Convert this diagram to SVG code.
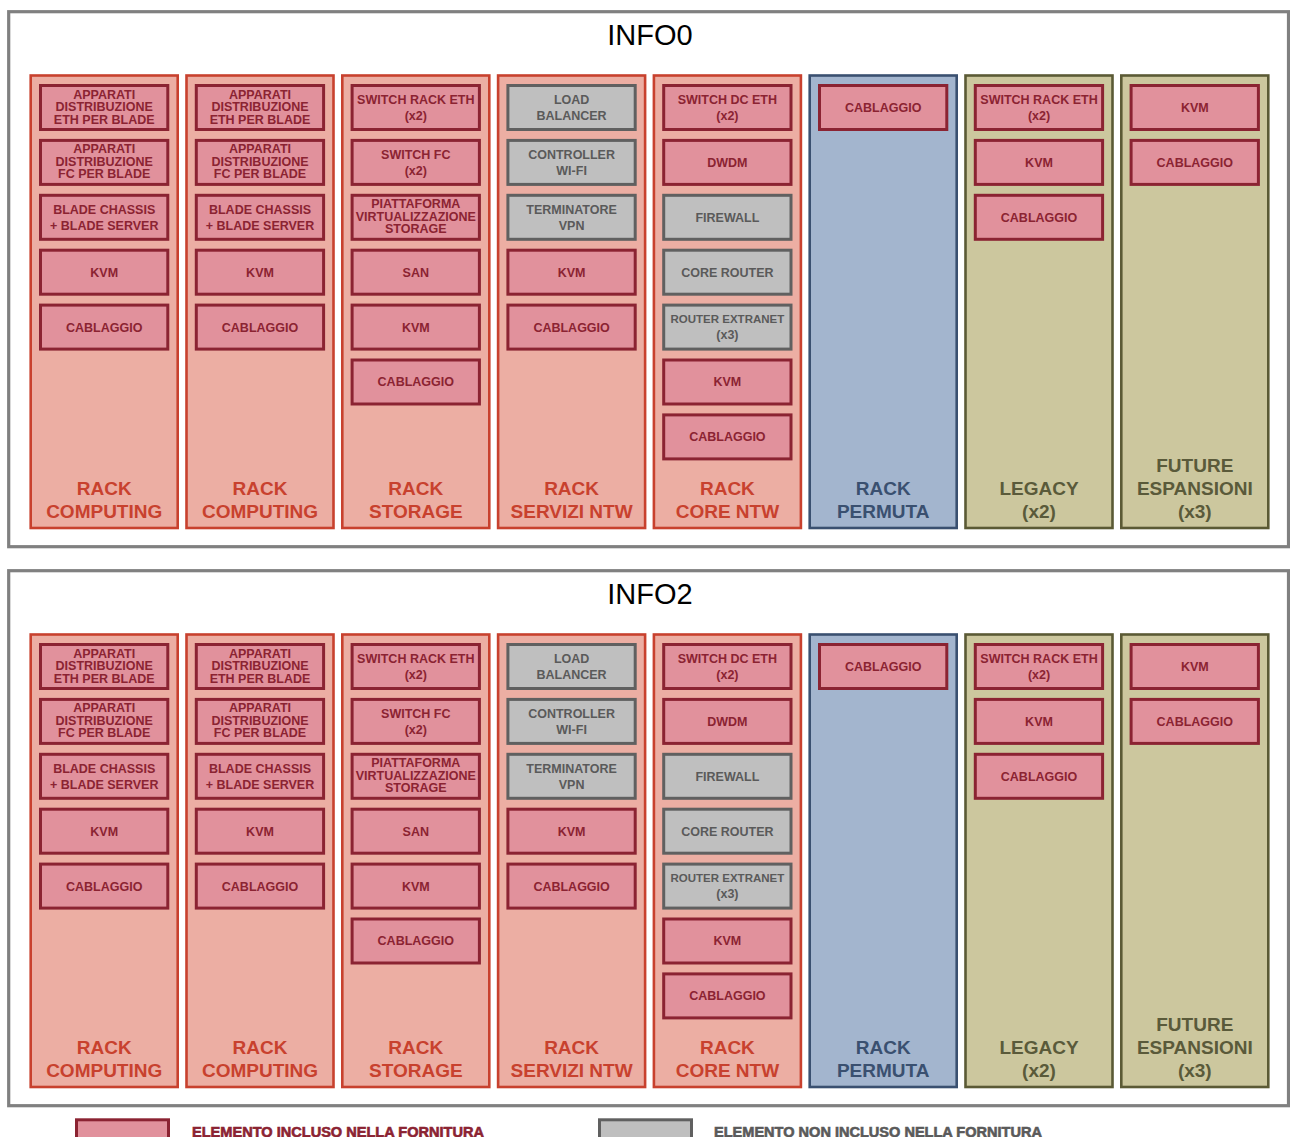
<svg xmlns="http://www.w3.org/2000/svg" width="1290" height="1137" viewBox="0 0 1290 1137">
<style>
.bg{fill:#ffffff}
.panel{fill:#ffffff;stroke:#808080;stroke-width:3.2}
.title{font-family:"Liberation Sans",Arial,sans-serif;font-size:29px;fill:#000;text-anchor:middle}
.rr{fill:#ECAEA3;stroke:#C8412E;stroke-width:2.6}
.rb{fill:#A3B5CE;stroke:#3A5070;stroke-width:2.6}
.ro{fill:#CCC79E;stroke:#5B5A35;stroke-width:2.6}
.ip{fill:#E1919C;stroke:#8B2332;stroke-width:3}
.ig{fill:#BFBFBF;stroke:#606060;stroke-width:3}
.tp,.tg{font-family:"Liberation Sans",Arial,sans-serif;font-weight:bold;font-size:12.5px;text-anchor:middle}
.tp{fill:#8B2332}
.tg{fill:#5A5A5A}
.sm{font-size:11.5px}
.lr,.lb,.lo{font-family:"Liberation Sans",Arial,sans-serif;font-weight:bold;font-size:19px;text-anchor:middle}
.lr{fill:#C8412E}
.lb{fill:#3A5070}
.lo{fill:#5A5A3A}
.leg{font-family:"Liberation Sans",Arial,sans-serif;font-weight:bold;font-size:14.5px;stroke-width:0.6}
</style>
<rect class="bg" x="0" y="0" width="1290" height="1137"/>

<!-- ================= PANEL INFO0 ================= -->
<g id="info0">
<rect class="panel" x="8.7" y="11.7" width="1279.8" height="535"/>
<text class="title" x="650" y="45">INFO0</text>

<g id="info0-rack1">
<rect class="rr" x="30.7" y="75.5" width="147" height="452.5"/>
<rect class="ip" x="40.5" y="85.5" width="127.3" height="44"/>
<text class="tp"><tspan x="104.2" y="98.5">APPARATI</tspan><tspan x="104.2" y="111">DISTRIBUZIONE</tspan><tspan x="104.2" y="123.5">ETH PER BLADE</tspan></text>
<rect class="ip" x="40.5" y="140.4" width="127.3" height="44"/>
<text class="tp"><tspan x="104.2" y="153.4">APPARATI</tspan><tspan x="104.2" y="165.9">DISTRIBUZIONE</tspan><tspan x="104.2" y="178.4">FC PER BLADE</tspan></text>
<rect class="ip" x="40.5" y="195.3" width="127.3" height="44"/>
<text class="tp"><tspan x="104.2" y="213.7">BLADE CHASSIS</tspan><tspan x="104.2" y="229.7">+ BLADE SERVER</tspan></text>
<rect class="ip" x="40.5" y="250.2" width="127.3" height="44"/>
<text class="tp" x="104.2" y="276.6">KVM</text>
<rect class="ip" x="40.5" y="305.1" width="127.3" height="44"/>
<text class="tp" x="104.2" y="331.5">CABLAGGIO</text>
<text class="lr"><tspan x="104.2" y="495">RACK</tspan><tspan x="104.2" y="518">COMPUTING</tspan></text>
</g>

<g id="info0-rack2">
<rect class="rr" x="186.5" y="75.5" width="147" height="452.5"/>
<rect class="ip" x="196.3" y="85.5" width="127.3" height="44"/>
<text class="tp"><tspan x="260" y="98.5">APPARATI</tspan><tspan x="260" y="111">DISTRIBUZIONE</tspan><tspan x="260" y="123.5">ETH PER BLADE</tspan></text>
<rect class="ip" x="196.3" y="140.4" width="127.3" height="44"/>
<text class="tp"><tspan x="260" y="153.4">APPARATI</tspan><tspan x="260" y="165.9">DISTRIBUZIONE</tspan><tspan x="260" y="178.4">FC PER BLADE</tspan></text>
<rect class="ip" x="196.3" y="195.3" width="127.3" height="44"/>
<text class="tp"><tspan x="260" y="213.7">BLADE CHASSIS</tspan><tspan x="260" y="229.7">+ BLADE SERVER</tspan></text>
<rect class="ip" x="196.3" y="250.2" width="127.3" height="44"/>
<text class="tp" x="260" y="276.6">KVM</text>
<rect class="ip" x="196.3" y="305.1" width="127.3" height="44"/>
<text class="tp" x="260" y="331.5">CABLAGGIO</text>
<text class="lr"><tspan x="260" y="495">RACK</tspan><tspan x="260" y="518">COMPUTING</tspan></text>
</g>

<g id="info0-rack3">
<rect class="rr" x="342.3" y="75.5" width="147" height="452.5"/>
<rect class="ip" x="352.1" y="85.5" width="127.3" height="44"/>
<text class="tp"><tspan x="415.8" y="103.8">SWITCH RACK ETH</tspan><tspan x="415.8" y="119.8">(x2)</tspan></text>
<rect class="ip" x="352.1" y="140.4" width="127.3" height="44"/>
<text class="tp"><tspan x="415.8" y="158.7">SWITCH FC</tspan><tspan x="415.8" y="174.7">(x2)</tspan></text>
<rect class="ip" x="352.1" y="195.3" width="127.3" height="44"/>
<text class="tp"><tspan x="415.8" y="208.3">PIATTAFORMA</tspan><tspan x="415.8" y="220.8">VIRTUALIZZAZIONE</tspan><tspan x="415.8" y="233.3">STORAGE</tspan></text>
<rect class="ip" x="352.1" y="250.2" width="127.3" height="44"/>
<text class="tp" x="415.8" y="276.6">SAN</text>
<rect class="ip" x="352.1" y="305.1" width="127.3" height="44"/>
<text class="tp" x="415.8" y="331.5">KVM</text>
<rect class="ip" x="352.1" y="360" width="127.3" height="44"/>
<text class="tp" x="415.8" y="386.4">CABLAGGIO</text>
<text class="lr"><tspan x="415.8" y="495">RACK</tspan><tspan x="415.8" y="518">STORAGE</tspan></text>
</g>

<g id="info0-rack4">
<rect class="rr" x="498.1" y="75.5" width="147" height="452.5"/>
<rect class="ig" x="507.9" y="85.5" width="127.3" height="44"/>
<text class="tg"><tspan x="571.6" y="103.8">LOAD</tspan><tspan x="571.6" y="119.8">BALANCER</tspan></text>
<rect class="ig" x="507.9" y="140.4" width="127.3" height="44"/>
<text class="tg"><tspan x="571.6" y="158.7">CONTROLLER</tspan><tspan x="571.6" y="174.7">WI-FI</tspan></text>
<rect class="ig" x="507.9" y="195.3" width="127.3" height="44"/>
<text class="tg"><tspan x="571.6" y="213.6">TERMINATORE</tspan><tspan x="571.6" y="229.6">VPN</tspan></text>
<rect class="ip" x="507.9" y="250.2" width="127.3" height="44"/>
<text class="tp" x="571.6" y="276.6">KVM</text>
<rect class="ip" x="507.9" y="305.1" width="127.3" height="44"/>
<text class="tp" x="571.6" y="331.5">CABLAGGIO</text>
<text class="lr"><tspan x="571.6" y="495">RACK</tspan><tspan x="571.6" y="518">SERVIZI NTW</tspan></text>
</g>

<g id="info0-rack5">
<rect class="rr" x="653.9" y="75.5" width="147" height="452.5"/>
<rect class="ip" x="663.7" y="85.5" width="127.3" height="44"/>
<text class="tp"><tspan x="727.4" y="103.8">SWITCH DC ETH</tspan><tspan x="727.4" y="119.8">(x2)</tspan></text>
<rect class="ip" x="663.7" y="140.4" width="127.3" height="44"/>
<text class="tp" x="727.4" y="166.8">DWDM</text>
<rect class="ig" x="663.7" y="195.3" width="127.3" height="44"/>
<text class="tg" x="727.4" y="221.7">FIREWALL</text>
<rect class="ig" x="663.7" y="250.2" width="127.3" height="44"/>
<text class="tg" x="727.4" y="276.6">CORE ROUTER</text>
<rect class="ig" x="663.7" y="305.1" width="127.3" height="44"/>
<text class="tg"><tspan class="sm" x="727.4" y="323.4">ROUTER EXTRANET</tspan><tspan x="727.4" y="339.4">(x3)</tspan></text>
<rect class="ip" x="663.7" y="360" width="127.3" height="44"/>
<text class="tp" x="727.4" y="386.4">KVM</text>
<rect class="ip" x="663.7" y="414.9" width="127.3" height="44"/>
<text class="tp" x="727.4" y="441.3">CABLAGGIO</text>
<text class="lr"><tspan x="727.4" y="495">RACK</tspan><tspan x="727.4" y="518">CORE NTW</tspan></text>
</g>

<g id="info0-rack6">
<rect class="rb" x="809.7" y="75.5" width="147" height="452.5"/>
<rect class="ip" x="819.5" y="85.5" width="127.3" height="44"/>
<text class="tp" x="883.2" y="111.9">CABLAGGIO</text>
<text class="lb"><tspan x="883.2" y="495">RACK</tspan><tspan x="883.2" y="518">PERMUTA</tspan></text>
</g>

<g id="info0-rack7">
<rect class="ro" x="965.5" y="75.5" width="147" height="452.5"/>
<rect class="ip" x="975.3" y="85.5" width="127.3" height="44"/>
<text class="tp"><tspan x="1039" y="103.8">SWITCH RACK ETH</tspan><tspan x="1039" y="119.8">(x2)</tspan></text>
<rect class="ip" x="975.3" y="140.4" width="127.3" height="44"/>
<text class="tp" x="1039" y="166.8">KVM</text>
<rect class="ip" x="975.3" y="195.3" width="127.3" height="44"/>
<text class="tp" x="1039" y="221.7">CABLAGGIO</text>
<text class="lo"><tspan x="1039" y="495">LEGACY</tspan><tspan x="1039" y="518">(x2)</tspan></text>
</g>

<g id="info0-rack8">
<rect class="ro" x="1121.3" y="75.5" width="147" height="452.5"/>
<rect class="ip" x="1131.1" y="85.5" width="127.3" height="44"/>
<text class="tp" x="1194.8" y="111.9">KVM</text>
<rect class="ip" x="1131.1" y="140.4" width="127.3" height="44"/>
<text class="tp" x="1194.8" y="166.8">CABLAGGIO</text>
<text class="lo"><tspan x="1194.8" y="472">FUTURE</tspan><tspan x="1194.8" y="495">ESPANSIONI</tspan><tspan x="1194.8" y="518">(x3)</tspan></text>
</g>
</g>

<!-- ================= PANEL INFO2 ================= -->
<g id="info2" transform="translate(0,559)">
<rect class="panel" x="8.7" y="11.7" width="1279.8" height="535"/>
<text class="title" x="650" y="45">INFO2</text>

<g id="info2-rack1">
<rect class="rr" x="30.7" y="75.5" width="147" height="452.5"/>
<rect class="ip" x="40.5" y="85.5" width="127.3" height="44"/>
<text class="tp"><tspan x="104.2" y="98.5">APPARATI</tspan><tspan x="104.2" y="111">DISTRIBUZIONE</tspan><tspan x="104.2" y="123.5">ETH PER BLADE</tspan></text>
<rect class="ip" x="40.5" y="140.4" width="127.3" height="44"/>
<text class="tp"><tspan x="104.2" y="153.4">APPARATI</tspan><tspan x="104.2" y="165.9">DISTRIBUZIONE</tspan><tspan x="104.2" y="178.4">FC PER BLADE</tspan></text>
<rect class="ip" x="40.5" y="195.3" width="127.3" height="44"/>
<text class="tp"><tspan x="104.2" y="213.7">BLADE CHASSIS</tspan><tspan x="104.2" y="229.7">+ BLADE SERVER</tspan></text>
<rect class="ip" x="40.5" y="250.2" width="127.3" height="44"/>
<text class="tp" x="104.2" y="276.6">KVM</text>
<rect class="ip" x="40.5" y="305.1" width="127.3" height="44"/>
<text class="tp" x="104.2" y="331.5">CABLAGGIO</text>
<text class="lr"><tspan x="104.2" y="495">RACK</tspan><tspan x="104.2" y="518">COMPUTING</tspan></text>
</g>

<g id="info2-rack2">
<rect class="rr" x="186.5" y="75.5" width="147" height="452.5"/>
<rect class="ip" x="196.3" y="85.5" width="127.3" height="44"/>
<text class="tp"><tspan x="260" y="98.5">APPARATI</tspan><tspan x="260" y="111">DISTRIBUZIONE</tspan><tspan x="260" y="123.5">ETH PER BLADE</tspan></text>
<rect class="ip" x="196.3" y="140.4" width="127.3" height="44"/>
<text class="tp"><tspan x="260" y="153.4">APPARATI</tspan><tspan x="260" y="165.9">DISTRIBUZIONE</tspan><tspan x="260" y="178.4">FC PER BLADE</tspan></text>
<rect class="ip" x="196.3" y="195.3" width="127.3" height="44"/>
<text class="tp"><tspan x="260" y="213.7">BLADE CHASSIS</tspan><tspan x="260" y="229.7">+ BLADE SERVER</tspan></text>
<rect class="ip" x="196.3" y="250.2" width="127.3" height="44"/>
<text class="tp" x="260" y="276.6">KVM</text>
<rect class="ip" x="196.3" y="305.1" width="127.3" height="44"/>
<text class="tp" x="260" y="331.5">CABLAGGIO</text>
<text class="lr"><tspan x="260" y="495">RACK</tspan><tspan x="260" y="518">COMPUTING</tspan></text>
</g>

<g id="info2-rack3">
<rect class="rr" x="342.3" y="75.5" width="147" height="452.5"/>
<rect class="ip" x="352.1" y="85.5" width="127.3" height="44"/>
<text class="tp"><tspan x="415.8" y="103.8">SWITCH RACK ETH</tspan><tspan x="415.8" y="119.8">(x2)</tspan></text>
<rect class="ip" x="352.1" y="140.4" width="127.3" height="44"/>
<text class="tp"><tspan x="415.8" y="158.7">SWITCH FC</tspan><tspan x="415.8" y="174.7">(x2)</tspan></text>
<rect class="ip" x="352.1" y="195.3" width="127.3" height="44"/>
<text class="tp"><tspan x="415.8" y="208.3">PIATTAFORMA</tspan><tspan x="415.8" y="220.8">VIRTUALIZZAZIONE</tspan><tspan x="415.8" y="233.3">STORAGE</tspan></text>
<rect class="ip" x="352.1" y="250.2" width="127.3" height="44"/>
<text class="tp" x="415.8" y="276.6">SAN</text>
<rect class="ip" x="352.1" y="305.1" width="127.3" height="44"/>
<text class="tp" x="415.8" y="331.5">KVM</text>
<rect class="ip" x="352.1" y="360" width="127.3" height="44"/>
<text class="tp" x="415.8" y="386.4">CABLAGGIO</text>
<text class="lr"><tspan x="415.8" y="495">RACK</tspan><tspan x="415.8" y="518">STORAGE</tspan></text>
</g>

<g id="info2-rack4">
<rect class="rr" x="498.1" y="75.5" width="147" height="452.5"/>
<rect class="ig" x="507.9" y="85.5" width="127.3" height="44"/>
<text class="tg"><tspan x="571.6" y="103.8">LOAD</tspan><tspan x="571.6" y="119.8">BALANCER</tspan></text>
<rect class="ig" x="507.9" y="140.4" width="127.3" height="44"/>
<text class="tg"><tspan x="571.6" y="158.7">CONTROLLER</tspan><tspan x="571.6" y="174.7">WI-FI</tspan></text>
<rect class="ig" x="507.9" y="195.3" width="127.3" height="44"/>
<text class="tg"><tspan x="571.6" y="213.6">TERMINATORE</tspan><tspan x="571.6" y="229.6">VPN</tspan></text>
<rect class="ip" x="507.9" y="250.2" width="127.3" height="44"/>
<text class="tp" x="571.6" y="276.6">KVM</text>
<rect class="ip" x="507.9" y="305.1" width="127.3" height="44"/>
<text class="tp" x="571.6" y="331.5">CABLAGGIO</text>
<text class="lr"><tspan x="571.6" y="495">RACK</tspan><tspan x="571.6" y="518">SERVIZI NTW</tspan></text>
</g>

<g id="info2-rack5">
<rect class="rr" x="653.9" y="75.5" width="147" height="452.5"/>
<rect class="ip" x="663.7" y="85.5" width="127.3" height="44"/>
<text class="tp"><tspan x="727.4" y="103.8">SWITCH DC ETH</tspan><tspan x="727.4" y="119.8">(x2)</tspan></text>
<rect class="ip" x="663.7" y="140.4" width="127.3" height="44"/>
<text class="tp" x="727.4" y="166.8">DWDM</text>
<rect class="ig" x="663.7" y="195.3" width="127.3" height="44"/>
<text class="tg" x="727.4" y="221.7">FIREWALL</text>
<rect class="ig" x="663.7" y="250.2" width="127.3" height="44"/>
<text class="tg" x="727.4" y="276.6">CORE ROUTER</text>
<rect class="ig" x="663.7" y="305.1" width="127.3" height="44"/>
<text class="tg"><tspan class="sm" x="727.4" y="323.4">ROUTER EXTRANET</tspan><tspan x="727.4" y="339.4">(x3)</tspan></text>
<rect class="ip" x="663.7" y="360" width="127.3" height="44"/>
<text class="tp" x="727.4" y="386.4">KVM</text>
<rect class="ip" x="663.7" y="414.9" width="127.3" height="44"/>
<text class="tp" x="727.4" y="441.3">CABLAGGIO</text>
<text class="lr"><tspan x="727.4" y="495">RACK</tspan><tspan x="727.4" y="518">CORE NTW</tspan></text>
</g>

<g id="info2-rack6">
<rect class="rb" x="809.7" y="75.5" width="147" height="452.5"/>
<rect class="ip" x="819.5" y="85.5" width="127.3" height="44"/>
<text class="tp" x="883.2" y="111.9">CABLAGGIO</text>
<text class="lb"><tspan x="883.2" y="495">RACK</tspan><tspan x="883.2" y="518">PERMUTA</tspan></text>
</g>

<g id="info2-rack7">
<rect class="ro" x="965.5" y="75.5" width="147" height="452.5"/>
<rect class="ip" x="975.3" y="85.5" width="127.3" height="44"/>
<text class="tp"><tspan x="1039" y="103.8">SWITCH RACK ETH</tspan><tspan x="1039" y="119.8">(x2)</tspan></text>
<rect class="ip" x="975.3" y="140.4" width="127.3" height="44"/>
<text class="tp" x="1039" y="166.8">KVM</text>
<rect class="ip" x="975.3" y="195.3" width="127.3" height="44"/>
<text class="tp" x="1039" y="221.7">CABLAGGIO</text>
<text class="lo"><tspan x="1039" y="495">LEGACY</tspan><tspan x="1039" y="518">(x2)</tspan></text>
</g>

<g id="info2-rack8">
<rect class="ro" x="1121.3" y="75.5" width="147" height="452.5"/>
<rect class="ip" x="1131.1" y="85.5" width="127.3" height="44"/>
<text class="tp" x="1194.8" y="111.9">KVM</text>
<rect class="ip" x="1131.1" y="140.4" width="127.3" height="44"/>
<text class="tp" x="1194.8" y="166.8">CABLAGGIO</text>
<text class="lo"><tspan x="1194.8" y="472">FUTURE</tspan><tspan x="1194.8" y="495">ESPANSIONI</tspan><tspan x="1194.8" y="518">(x3)</tspan></text>
</g>
</g>

<g id="connectors"></g>

<!-- ================= LEGEND ================= -->
<g id="legend-incluso">
<rect class="ip" x="76.5" y="1119.8" width="92" height="30"/>
<text class="leg" x="192" y="1136.5" fill="#8B2332" stroke="#8B2332" textLength="292" lengthAdjust="spacingAndGlyphs">ELEMENTO INCLUSO NELLA FORNITURA</text>
</g>
<g id="legend-non-incluso">
<rect class="ig" x="599.5" y="1119.8" width="92" height="30"/>
<text class="leg" x="714" y="1136.5" fill="#5A5A5A" stroke="#5A5A5A" textLength="328" lengthAdjust="spacingAndGlyphs">ELEMENTO NON INCLUSO NELLA FORNITURA</text>
</g>
</svg>
